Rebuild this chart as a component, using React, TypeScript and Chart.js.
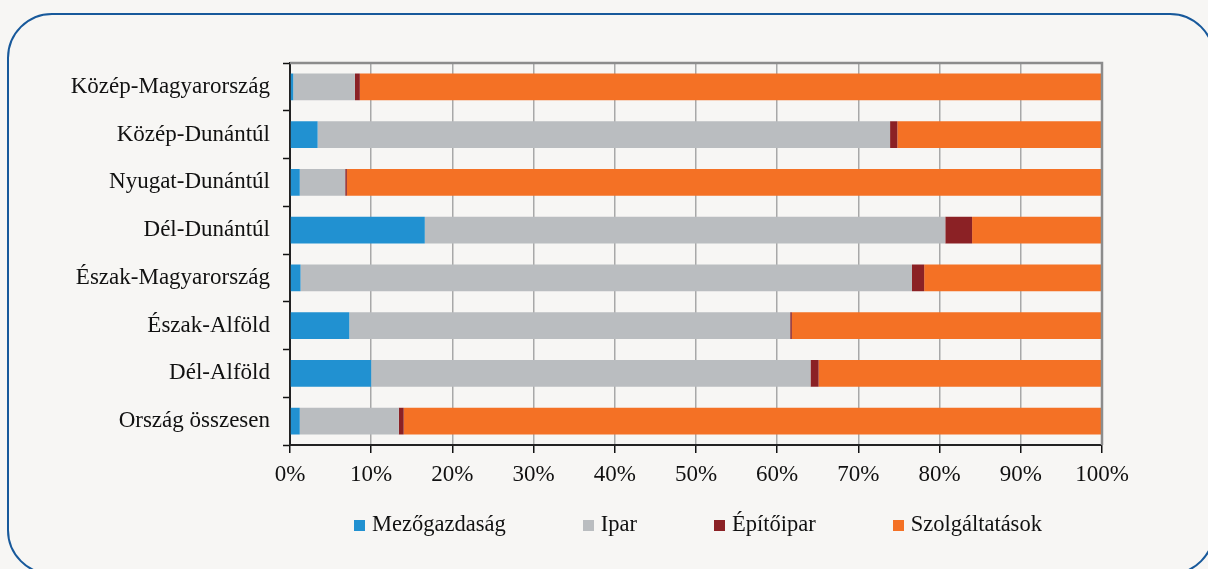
import React, { useEffect, useRef } from "react";
import { Chart, registerables } from "chart.js";

Chart.register(...registerables);

const categories = [
  "Közép-Magyarország",
  "Közép-Dunántúl",
  "Nyugat-Dunántúl",
  "Dél-Dunántúl",
  "Észak-Magyarország",
  "Észak-Alföld",
  "Dél-Alföld",
  "Ország összesen",
];

const seriesNames = ["Mezőgazdaság", "Ipar", "Építőipar", "Szolgáltatások"];
const seriesColors = ["#2191d1", "#babdc0", "#8b2125", "#f47125"];

const mezogazdasag = [0.4, 3.4, 1.2, 16.6, 1.3, 7.3, 10.0, 1.2];
const ipar = [7.6, 70.5, 5.6, 64.1, 75.3, 54.3, 54.1, 12.2];
const epitoipar = [0.6, 0.9, 0.2, 3.3, 1.5, 0.2, 1.0, 0.6];
const szolgaltatasok = [91.4, 25.2, 93.0, 16.0, 21.9, 38.2, 34.9, 86.0];

const xTickValues = [0, 10, 20, 30, 40, 50, 60, 70, 80, 90, 100];

const FONT = "'Liberation Serif', 'Times New Roman', serif";

const plotFrame = {
  id: "plotFrame",
  afterDatasetsDraw(chart: any) {
    const { ctx, chartArea } = chart;
    const { left, right, top, bottom } = chartArea;
    ctx.save();
    ctx.strokeStyle = "#8c8c8c";
    ctx.lineWidth = 2.5;
    ctx.beginPath();
    ctx.moveTo(left, top);
    ctx.lineTo(right, top);
    ctx.lineTo(right, bottom);
    ctx.stroke();
    ctx.restore();
  },
};

export default function App() {
  const ref = useRef<HTMLCanvasElement | null>(null);

  useEffect(() => {
    if (!ref.current) return;
    const values = [mezogazdasag, ipar, epitoipar, szolgaltatasok];
    const chart = new Chart(ref.current, {
      type: "bar",
      data: {
        labels: categories,
        datasets: seriesNames.map((name, i) => ({
          label: name,
          data: values[i],
          backgroundColor: seriesColors[i],
          borderWidth: 0,
          barPercentage: 1,
          categoryPercentage: 0.56,
        })),
      },
      options: {
        indexAxis: "y",
        responsive: false,
        animation: false,
        layout: { padding: { left: 0, right: 106, top: 63, bottom: 84 } },
        plugins: {
          legend: { display: false },
          tooltip: { enabled: false },
        },
        scales: {
          x: {
            stacked: true,
            min: 0,
            max: 100,
            afterBuildTicks: (scale: any) => {
              scale.ticks = xTickValues.map((v) => ({ value: v }));
            },
            afterFit: (scale: any) => {
              scale.height = 40;
            },
            ticks: {
              callback: (v: any) => v + "%",
              color: "#111",
              font: { family: FONT, size: 23 },
              padding: 8,
              maxRotation: 0,
            },
            grid: {
              color: "#a8a8a8",
              lineWidth: 1.5,
              tickColor: "#111",
              tickWidth: 1.5,
              tickLength: 8,
            },
            border: { color: "#222", width: 2 },
          },
          y: {
            stacked: true,
            afterFit: (scale: any) => {
              scale.width = 290;
            },
            ticks: {
              color: "#111",
              font: { family: FONT, size: 23 },
              padding: 13,
            },
            grid: {
              offset: true,
              drawOnChartArea: false,
              tickColor: "#111",
              tickWidth: 1.5,
              tickLength: 7,
            },
            border: { color: "#222", width: 2 },
          },
        },
      },
      plugins: [plotFrame],
    } as any);
    return () => chart.destroy();
  }, []);

  return (
    <div
      style={{
        position: "fixed",
        left: 0,
        top: 0,
        width: 1208,
        height: 569,
        overflow: "hidden",
        background: "#f7f6f4",
      }}
    >
      <div
        style={{
          position: "absolute",
          left: 7,
          top: 13,
          width: 1208,
          height: 562,
          border: "2px solid #18599b",
          borderRadius: 45,
          boxSizing: "border-box",
        }}
      />
      <canvas
        ref={ref}
        width={1208}
        height={569}
        style={{ position: "absolute", left: 0, top: 0, width: 1208, height: 569 }}
      />
      <div
        style={{
          position: "absolute",
          left: 354,
          top: 513,
          display: "flex",
          fontFamily: FONT,
          fontSize: 22.5,
          lineHeight: "22px",
          color: "#111",
          whiteSpace: "nowrap",
        }}
      >
        {seriesNames.map((name, i) => (
          <div key={name} style={{ marginRight: i < seriesNames.length - 1 ? 77 : 0 }}>
            <span
              style={{
                display: "inline-block",
                width: 11,
                height: 11,
                background: seriesColors[i],
                marginRight: 7,
              }}
            />
            {name}
          </div>
        ))}
      </div>
    </div>
  );
}
